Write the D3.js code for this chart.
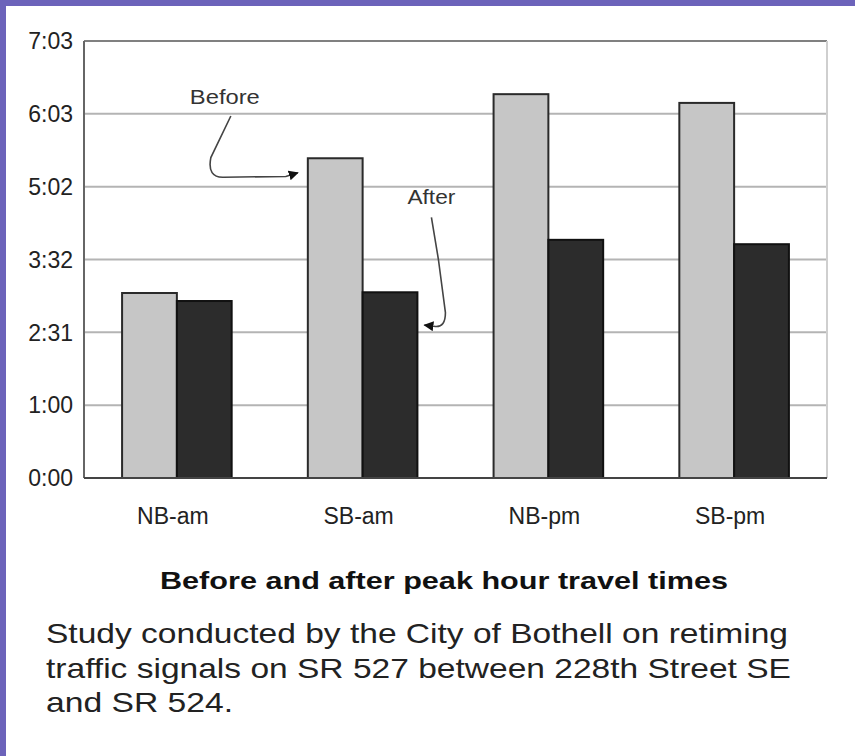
<!DOCTYPE html>
<html lang="en">
<head>
<meta charset="UTF-8">
<title>Before and after peak hour travel times</title>
<script src="https://d3js.org/d3.v7.min.js"></script>
<style>
  * { margin: 0; padding: 0; box-sizing: border-box; }
  body { background: #fff; }
  svg { display: block; font-family: "Liberation Sans", Arial, sans-serif; }
</style>
</head>
<body>
<div id="chart"></div>
<script>
// values in axis-step units (each gridline step is one unit)
const categories = ["NB-am", "SB-am", "NB-pm", "SB-pm"];
const seriesNames = ["Before", "After"];
const beforeValues = [2.54, 4.39, 5.27, 5.15];
const afterValues = [2.43, 2.55, 3.27, 3.21];
const tickLabels = ["0:00", "1:00", "2:31", "3:32", "5:02", "6:03", "7:03"];
const noteLines = [
    "Study conducted by the City of Bothell on retiming",
    "traffic signals on SR 527 between 228th Street SE",
    "and SR 524."
];
const titleText = "Before and after peak hour travel times";

const W = 855, H = 756;
const margin = { left: 84, right: 28, top: 41, bottom: 278 };
const plotW = W - margin.left - margin.right;
const plotH = H - margin.top - margin.bottom;

const svg = d3.select("#chart").append("svg")
    .attr("width", W)
    .attr("height", H);

// purple frame
svg.append("rect").attr("width", W).attr("height", H).attr("fill", "#6c63ba");
svg.append("rect").attr("x", 6).attr("y", 6).attr("width", W - 6).attr("height", H - 6).attr("fill", "#fff");

const g = svg.append("g").attr("transform", `translate(${margin.left},${margin.top})`);

const x0 = d3.scaleBand().domain(categories).range([0, plotW])
    .paddingInner(0.41).paddingOuter(0.205);
const x1 = d3.scaleBand().domain(seriesNames).range([0, x0.bandwidth()]);
const y = d3.scaleLinear().domain([0, 6]).range([plotH, 0]);

// gridlines
g.selectAll("line.grid")
    .data(d3.range(1, 6))
    .enter().append("line")
    .attr("class", "grid")
    .attr("x1", 0).attr("x2", plotW)
    .attr("y1", d => y(d)).attr("y2", d => y(d))
    .attr("stroke", "#b4b4b4").attr("stroke-width", 2);

// frame
g.append("line").attr("x1", 0).attr("x2", plotW).attr("y1", y(6)).attr("y2", y(6))
    .attr("stroke", "#808080").attr("stroke-width", 2);
g.append("line").attr("x1", plotW).attr("x2", plotW).attr("y1", y(6)).attr("y2", y(0))
    .attr("stroke", "#cfcfcf").attr("stroke-width", 2);

// bars
const rows = categories.map((c, i) => ({ cat: c, vals: [beforeValues[i], afterValues[i]] }));
const groups = g.selectAll("g.grp")
    .data(rows)
    .enter().append("g")
    .attr("class", "grp")
    .attr("transform", d => `translate(${x0(d.cat)},0)`);

groups.selectAll("rect")
    .data(d => d.vals.map((v, j) => ({ series: seriesNames[j], v })))
    .enter().append("rect")
    .attr("x", d => x1(d.series))
    .attr("y", d => y(d.v))
    .attr("width", x1.bandwidth())
    .attr("height", d => y(0) - y(d.v))
    .attr("fill", d => d.series === "Before" ? "#c6c6c6" : "#2c2c2c")
    .attr("stroke", d => d.series === "Before" ? "#2a2a2a" : "#111")
    .attr("stroke-width", 2);

// axes
g.append("line").attr("x1", 0).attr("x2", 0).attr("y1", y(6)).attr("y2", y(0))
    .attr("stroke", "#666").attr("stroke-width", 2);
g.append("line").attr("x1", 0).attr("x2", plotW).attr("y1", y(0)).attr("y2", y(0))
    .attr("stroke", "#444").attr("stroke-width", 2);

const yAxis = g.append("g")
    .call(d3.axisLeft(y).tickValues(d3.range(7)).tickFormat(i => tickLabels[i]).tickSize(0).tickPadding(11));
yAxis.select(".domain").remove();
yAxis.selectAll("text")
    .attr("font-size", 23)
    .attr("font-family", "\"Liberation Sans\", Arial, sans-serif")
    .attr("fill", "#222")
    .attr("dy", "0.34em");

const xAxis = g.append("g")
    .attr("transform", `translate(0,${plotH})`)
    .call(d3.axisBottom(x0).tickSize(0).tickPadding(30));
xAxis.select(".domain").remove();
xAxis.selectAll("text")
    .attr("font-size", 23)
    .attr("font-family", "\"Liberation Sans\", Arial, sans-serif")
    .attr("fill", "#222")
    .attr("dx", -4);

// annotations with curved arrows
const defs = svg.append("defs");
defs.append("marker")
    .attr("id", "arrow")
    .attr("viewBox", "0 0 10 10")
    .attr("refX", 9).attr("refY", 5)
    .attr("markerWidth", 10).attr("markerHeight", 10)
    .attr("markerUnits", "userSpaceOnUse")
    .attr("orient", "auto")
    .append("path").attr("d", "M0,0 L10,5 L0,10 z").attr("fill", "#111");

const bx = x0("SB-am") + x1("Before");
const beforePath = d3.path();
beforePath.moveTo(bx - 77, y(4.97));
beforePath.lineTo(bx - 97, y(4.40));
beforePath.quadraticCurveTo(bx - 101, y(4.12), bx - 84, y(4.13));
beforePath.lineTo(bx - 22, y(4.14));
beforePath.lineTo(bx - 10, y(4.19));

const ax = x0("SB-am") + x1("After") + x1.bandwidth();
const afterPath = d3.path();
afterPath.moveTo(ax + 14, y(3.58));
afterPath.lineTo(ax + 21, y(3.0));
afterPath.lineTo(ax + 28, y(2.27));
afterPath.quadraticCurveTo(ax + 28, y(2.07), ax + 18, y(2.08));
afterPath.lineTo(ax + 7, y(2.10));

[beforePath, afterPath].forEach(p => {
    g.append("path")
        .attr("d", p.toString())
        .attr("fill", "none")
        .attr("stroke", "#444")
        .attr("stroke-width", 1.6)
        .attr("marker-end", "url(#arrow)");
});

g.append("text")
    .attr("x", bx - 118).attr("y", y(5.14))
    .attr("font-size", 20).attr("fill", "#333")
    .attr("textLength", 70).attr("lengthAdjust", "spacingAndGlyphs")
    .text("Before");
g.append("text")
    .attr("x", ax - 10).attr("y", y(3.76))
    .attr("font-size", 20).attr("fill", "#333")
    .attr("textLength", 48).attr("lengthAdjust", "spacingAndGlyphs")
    .text("After");

// title and note
svg.append("text")
    .attr("x", 160).attr("y", 589)
    .attr("font-size", 24).attr("font-weight", "bold").attr("fill", "#111")
    .attr("textLength", 568).attr("lengthAdjust", "spacingAndGlyphs")
    .text(titleText);

const noteWidths = [742, 745, 187];
svg.selectAll("text.note")
    .data(noteLines)
    .enter().append("text")
    .attr("class", "note")
    .attr("x", 46)
    .attr("y", (d, i) => 643 + i * 34.5)
    .attr("font-size", 28)
    .attr("fill", "#222")
    .attr("textLength", (d, i) => noteWidths[i])
    .attr("lengthAdjust", "spacingAndGlyphs")
    .text(d => d);
</script>
</body>
</html>
